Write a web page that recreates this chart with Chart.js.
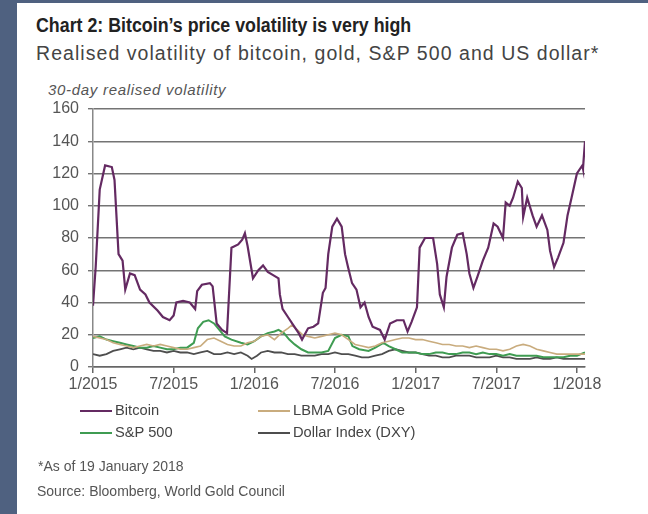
<!DOCTYPE html>
<html>
<head>
<meta charset="utf-8">
<script src="https://cdn.jsdelivr.net/npm/chart.js@4.4.1/dist/chart.umd.min.js"></script>
<style>
  html, body { margin: 0; padding: 0; }
  body { width: 648px; height: 514px; background: #4f6180; position: relative; overflow: hidden;
         font-family: "Liberation Sans", Arial, sans-serif; }
  #panel { position: absolute; left: 17px; top: 3px; right: 0; bottom: 0; background: #fff; }
  .txt { position: absolute; white-space: nowrap; color: #3a3a3a; }
  #title { left: 36px; top: 14px; font-weight: bold; font-size: 20px; color: #222;
           transform: scaleX(0.89); transform-origin: left top; }
  #subtitle { left: 36px; top: 42px; font-size: 19.5px; letter-spacing: 1.05px; color: #444; }
  #unit { left: 48px; top: 81px; font-size: 15px; letter-spacing: 0.7px; font-style: italic; color: #555; }
  #note { left: 38px; top: 458px; font-size: 14px; color: #555; }
  #source { left: 37px; top: 483px; font-size: 14px; color: #555; }
  #chart { position: absolute; left: 0; top: 0; }
  .leg { position: absolute; font-size: 14.7px; color: #444; white-space: nowrap; }
  .leg span.sw { display: inline-block; width: 32px; height: 2.5px; vertical-align: middle; margin-right: 3px; }
</style>
</head>
<body>
<div id="panel"></div>
<div class="txt" id="title">Chart 2: Bitcoin’s price volatility is very high</div>
<div class="txt" id="subtitle">Realised volatility of bitcoin, gold, S&amp;P 500 and US dollar*</div>
<div class="txt" id="unit">30-day realised volatility</div>
<canvas id="chart" width="648" height="514"></canvas>
<div id="legend"></div>
<div class="txt" id="note">*As of 19 January 2018</div>
<div class="txt" id="source">Source: Bloomberg, World Gold Council</div>
<script>
// x values are months since January 2015
const tickMonths = [0, 6, 12, 18, 24, 30, 36];
const tickLabels = ['1/2015', '7/2015', '1/2016', '7/2016', '1/2017', '7/2017', '1/2018'];

const seriesNames = ['Bitcoin', 'LBMA Gold Price', 'S&P 500', 'Dollar Index (DXY)'];
const seriesColors = ['#642a62', '#c9ac7e', '#3f9c52', '#4e4e4e'];

const btcMonths = [0, 0.2, 0.5, 0.9, 1.4, 1.6, 1.9, 2.2, 2.4, 2.75, 3.1, 3.5, 3.9, 4.2, 4.8, 5.2, 5.7, 6.0, 6.2, 6.7,
  7.2, 7.6, 7.75, 8.1, 8.7, 8.9, 9.2, 9.6, 9.97, 10.3, 10.8, 11.1, 11.3, 11.5, 11.8, 11.9, 12.3, 12.65, 13.0, 13.4,
  13.8, 13.9, 14.1, 14.5, 14.9, 15.3, 15.55, 16.0, 16.4, 16.75, 17.1, 17.3, 17.5, 17.8, 18.15, 18.5, 18.75, 18.97,
  19.27, 19.6, 19.9, 20.2, 20.5, 20.8, 21.35, 21.7, 22.1, 22.6, 23.1, 23.4, 23.7, 24.1, 24.3, 24.7, 25.3, 25.6, 25.8,
  26.1, 26.3, 26.7, 27.1, 27.5, 27.8, 28.0, 28.3, 28.6, 29.0, 29.4, 29.8, 30.1, 30.5, 30.7, 31.0, 31.25, 31.6, 31.9,
  32.0, 32.3, 32.7, 33.0, 33.4, 33.8, 34.0, 34.3, 34.6, 35.0, 35.3, 35.6, 36.0, 36.4, 36.45, 36.6];
const btcVol = [38, 62, 110, 125, 124, 116, 70, 66, 48, 58, 57, 48, 45, 40, 35, 31, 29, 32, 40, 41,
  40, 36, 47, 51, 52, 50, 27, 23, 21, 74, 76, 79, 83, 75, 60, 55, 60, 63, 59, 57,
  55, 45, 36, 31, 26, 21, 17, 24, 25, 27, 46, 49, 70, 87, 92, 87, 70, 62,
  52, 48, 37, 40, 31, 25, 23, 17, 27, 29, 29, 22, 28, 37, 74, 80, 80, 64, 45,
  37, 56, 74, 82, 83, 70, 58, 49, 56, 66, 74, 89, 87, 80, 102, 100, 105, 115, 111,
  93, 105, 94, 87, 94, 85, 72, 62, 68, 77, 94, 105, 120, 125, 123, 140];

const goldMonths = [0, 0.5, 1, 1.5, 2, 2.5, 3, 3.5, 4, 4.5, 5, 5.5, 6, 6.5, 7, 7.5, 8, 8.5, 9, 9.5, 10, 10.5, 11, 11.5,
  12, 12.5, 13, 13.5, 14, 14.5, 14.8, 15.2, 15.6, 16, 16.5, 17, 17.5, 18, 18.5, 19, 19.5, 20, 20.5, 21, 21.5, 22, 22.5,
  23, 23.5, 24, 24.5, 25, 25.5, 26, 26.5, 27, 27.5, 28, 28.5, 29, 29.5, 30, 30.5, 31, 31.5, 32, 32.5, 33, 33.5, 34,
  34.5, 35, 35.5, 36, 36.6];
const goldVol = [19, 18, 17, 15, 14, 13, 12, 13, 14, 13, 14, 13, 12, 11, 11, 12, 13, 17, 18, 16, 14, 13, 13, 15,
  16, 19, 20, 17, 21, 24, 26, 23, 20, 19, 18, 19, 20, 21, 20, 17, 14, 13, 12, 13, 15, 16, 17,
  18, 18, 17, 17, 16, 15, 14, 14, 13, 13, 12, 13, 12, 11, 11, 10, 11, 13, 14, 13, 11, 10, 9,
  8, 8, 8, 8, 8];

const spxMonths = [0, 0.5, 1, 1.5, 2, 2.5, 3, 3.5, 4, 4.5, 5, 5.5, 6, 6.5, 7, 7.5, 7.8, 8.2, 8.6, 9, 9.4, 9.8, 10.3,
  11, 11.5, 12, 12.5, 13, 13.5, 13.8, 14.2, 14.6, 15, 15.5, 16, 16.5, 17, 17.5, 18, 18.5, 19, 19.3, 19.8, 20.5, 21,
  21.6, 22, 22.5, 23, 23.5, 24, 24.5, 25, 25.5, 26, 26.5, 27, 27.5, 28, 28.5, 29, 29.5, 30, 30.5, 31, 31.5, 32, 32.5,
  33, 33.5, 34, 34.5, 35, 35.5, 36, 36.6];
const spxVol = [18, 19, 17, 16, 15, 14, 13, 12, 12, 13, 12, 11, 11, 12, 12, 15, 24, 28, 29, 27, 23, 19, 17,
  15, 14, 16, 19, 21, 22, 23, 21, 17, 14, 11, 9, 9, 9, 10, 18, 20, 19, 13, 11, 10, 12,
  15, 13, 11, 9, 9, 9, 8, 8, 9, 9, 8, 8, 9, 9, 8, 9, 8, 8, 7, 8, 7, 7, 7,
  7, 6, 6, 6, 6, 7, 7, 9];

const dxyMonths = [0, 0.5, 1, 1.5, 2, 2.5, 3, 3.5, 4, 4.5, 5, 5.5, 6, 6.5, 7, 7.5, 8, 8.5, 9, 9.5, 10, 10.5, 11, 11.5,
  11.8, 12.2, 12.5, 13, 13.5, 14, 14.5, 15, 15.5, 16, 16.5, 17, 17.5, 18, 18.5, 19, 19.5, 20, 20.5, 21, 21.5, 22, 22.5,
  23, 23.5, 24, 24.5, 25, 25.5, 26, 26.5, 27, 27.5, 28, 28.5, 29, 29.5, 30, 30.5, 31, 31.5, 32, 32.5, 33, 33.5, 34,
  34.5, 35, 35.5, 36, 36.6];
const dxyVol = [8, 7, 8, 10, 11, 12, 11, 12, 11, 10, 10, 9, 10, 9, 9, 8, 9, 10, 8, 8, 9, 8, 9, 7,
  5, 7, 9, 10, 9, 9, 8, 8, 7, 7, 7, 8, 8, 9, 8, 8, 7, 6, 6, 7, 8, 10, 11,
  10, 9, 9, 8, 7, 7, 6, 6, 7, 7, 7, 6, 6, 6, 7, 6, 6, 5, 5, 5, 6, 5, 5,
  6, 5, 5, 5, 5];

const seriesMonths = [btcMonths, goldMonths, spxMonths, dxyMonths];
const seriesValues = [btcVol, goldVol, spxVol, dxyVol];
const seriesWidths = [2.2, 1.6, 2, 1.8];

const datasets = seriesNames.map((name, i) => ({
  label: name,
  data: seriesMonths[i].map((m, j) => ({ x: m, y: seriesValues[i][j] })),
  borderColor: seriesColors[i],
  backgroundColor: seriesColors[i],
  borderWidth: seriesWidths[i],
  pointRadius: 0,
  tension: 0,
  fill: false
}));

new Chart(document.getElementById('chart').getContext('2d'), {
  type: 'line',
  data: { datasets },
  options: {
    responsive: false,
    animation: false,
    layout: { padding: { left: 48, right: 63, top: 109, bottom: 119 } },
    plugins: { legend: { display: false }, tooltip: { enabled: false } },
    scales: {
      x: {
        type: 'linear',
        min: 0,
        max: 36.6,
        afterFit: (s) => { s.height = 28; },
        afterBuildTicks: (s) => { s.ticks = tickMonths.map(v => ({ value: v })); },
        grid: { drawOnChartArea: false, drawTicks: true, tickLength: 6, color: '#666', lineWidth: 1.5 },
        border: { color: '#666', width: 1.5 },
        ticks: {
          color: '#555',
          font: { family: 'Liberation Sans', size: 16 },
          padding: 2,
          maxRotation: 0,
          autoSkip: false,
          callback: (v) => tickLabels[tickMonths.indexOf(v)]
        }
      },
      y: {
        min: 0,
        max: 160,
        afterFit: (s) => { s.width = 45; },
        grid: { color: '#747474', lineWidth: 1.4, tickLength: 5 },
        border: { color: '#888', width: 1.5 },
        ticks: { stepSize: 20, color: '#555', font: { family: 'Liberation Sans', size: 16 }, padding: 9 }
      }
    }
  }
});

// legend laid out as two columns like the original
const legendPos = [[80, 402], [258, 402], [80, 424], [258, 424]];
const legend = document.getElementById('legend');
seriesNames.forEach((name, i) => {
  const el = document.createElement('div');
  el.className = 'leg';
  el.style.left = legendPos[i][0] + 'px';
  el.style.top = legendPos[i][1] + 'px';
  el.innerHTML = '<span class="sw" style="background:' + seriesColors[i] + '"></span>';
  el.appendChild(document.createTextNode(name));
  legend.appendChild(el);
});
</script>
</body>
</html>
